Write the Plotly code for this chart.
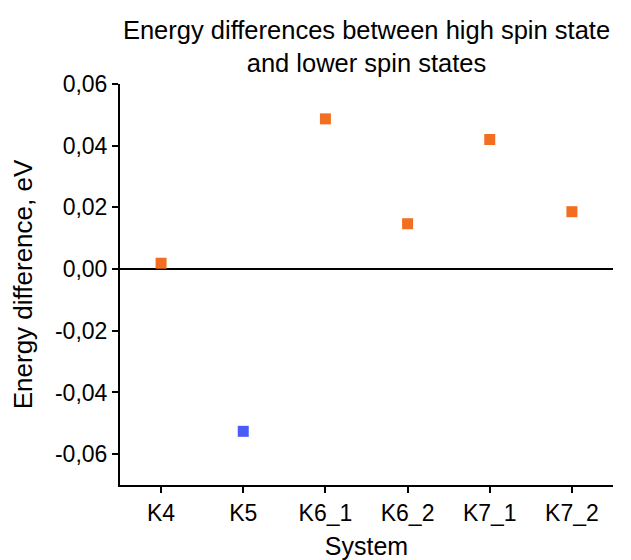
import plotly.graph_objects as go

systems = ["K4", "K5", "K6_1", "K6_2", "K7_1", "K7_2"]
energy_diff = [0.0019, -0.0526, 0.0487, 0.0147, 0.0420, 0.0186]
point_colors = ["#F26F21", "#4A5CF7", "#F26F21", "#F26F21", "#F26F21", "#F26F21"]
y_tick_vals = [-0.06, -0.04, -0.02, 0.0, 0.02, 0.04, 0.06]
y_tick_text = ["-0,06", "-0,04", "-0,02", "0,00", "0,02", "0,04", "0,06"]

FONT = "Liberation Sans, Arial, sans-serif"

fig = go.Figure(
    go.Scatter(
        x=systems,
        y=energy_diff,
        mode="markers",
        marker=dict(symbol="square", size=11, color=point_colors, line=dict(width=0)),
        showlegend=False,
    )
)

fig.update_layout(
    width=623,
    height=552,
    paper_bgcolor="white",
    plot_bgcolor="white",
    font=dict(family=FONT, color="black", size=23),
    margin=dict(l=112, r=18, t=76, b=75, autoexpand=False),
    title=dict(
        text="Energy differences between high spin state<br>and lower spin states",
        x=0.5,
        xanchor="center",
        xref="paper",
        yref="container",
        y=0.944,
        yanchor="middle",
        font=dict(size=25.5, family=FONT, color="black"),
    ),
    xaxis=dict(
        title=dict(text="System", font=dict(size=25), standoff=14),
        automargin=False,
        range=[-0.5, 5.5],
        showline=True,
        linecolor="black",
        linewidth=2,
        ticks="outside",
        ticklen=6,
        tickwidth=2,
        tickcolor="black",
        showgrid=False,
        zeroline=False,
        tickfont=dict(size=23),
    ),
    yaxis=dict(
        title=dict(text="Energy difference, eV", font=dict(size=26), standoff=17),
        automargin=False,
        range=[-0.07, 0.06],
        tickvals=y_tick_vals,
        ticktext=y_tick_text,
        showline=True,
        linecolor="black",
        linewidth=2,
        ticks="outside",
        ticklen=6,
        tickwidth=2,
        tickcolor="black",
        showgrid=False,
        zeroline=True,
        zerolinecolor="black",
        zerolinewidth=1.5,
        tickfont=dict(size=23),
    ),
)

fig.write_html("out.html")
